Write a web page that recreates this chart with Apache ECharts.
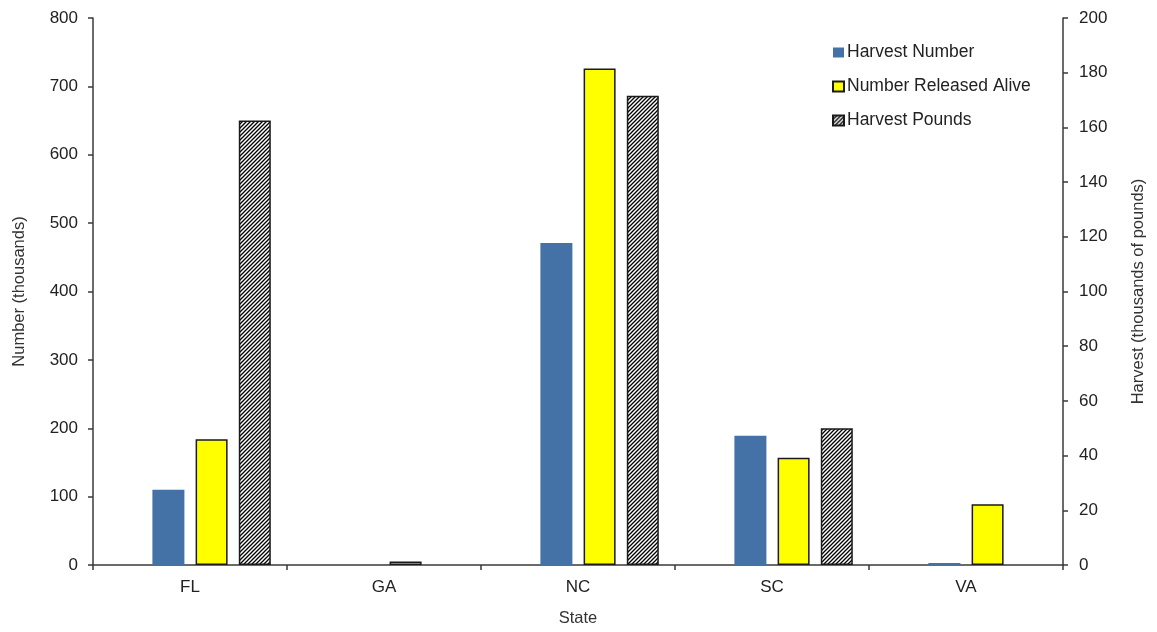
<!DOCTYPE html>
<html>
<head>
<meta charset="utf-8">
<script src="https://cdn.jsdelivr.net/npm/echarts@6/dist/echarts.min.js"></script>
<style>
html,body{margin:0;padding:0;background:#fff;}
#chart{width:1157px;height:632px;}
</style>
</head>
<body>
<div id="chart"></div>
<script>
const states = ['FL', 'GA', 'NC', 'SC', 'VA'];
const harvestNumber = [110, null, 471, 189, 3];
const releasedAlive = [184, 5, 726, 157, 89];
const harvestPounds = [162.5, null, 171.6, 50, null];
const leftTicks = { min: 0, max: 800, interval: 100 };
const rightTicks = { min: 0, max: 200, interval: 20 };

function hatch() {
  const c = document.createElement('canvas');
  const s = 4;
  c.width = s; c.height = s;
  const g = c.getContext('2d');
  g.fillStyle = '#fff';
  g.fillRect(0, 0, s, s);
  g.strokeStyle = '#000';
  g.lineWidth = 1.3;
  g.beginPath();
  g.moveTo(-1, s + 1); g.lineTo(s + 1, -1);
  g.moveTo(-1, 1); g.lineTo(1, -1);
  g.moveTo(s - 1, s + 1); g.lineTo(s + 1, s - 1);
  g.stroke();
  return c;
}

const font = 'Liberation Sans, Arial, sans-serif';
const axisLine = { show: true, lineStyle: { color: '#3a3a3a', width: 1.5 } };
const tick = { show: true, length: 5, lineStyle: { color: '#3a3a3a', width: 1.5 } };
const chart = echarts.init(document.getElementById('chart'));
chart.setOption({
  animation: false,
  textStyle: { fontFamily: font },
  grid: { left: 93, right: 94, top: 18, bottom: 65 },
  legend: {
    orient: 'vertical',
    left: 827,
    top: 37,
    data: ['Harvest Number', 'Number Released Alive', 'Harvest Pounds'],
    itemWidth: 11,
    itemHeight: 10,
    itemGap: 13,
    icon: 'rect',
    textStyle: { fontSize: 17.5, color: '#222', lineHeight: 21, fontFamily: font, padding: [0, 0, 0, -2] }
  },
  xAxis: {
    type: 'category',
    data: states,
    name: 'State',
    nameLocation: 'middle',
    nameGap: 45,
    nameTextStyle: { fontSize: 16.5, color: '#333' },
    axisLine: axisLine,
    axisTick: tick,
    axisLabel: { fontSize: 17, color: '#222', margin: 14 }
  },
  yAxis: [
    {
      type: 'value',
      min: leftTicks.min, max: leftTicks.max, interval: leftTicks.interval,
      name: 'Number (thousands)',
      nameLocation: 'middle',
      nameGap: 65,
      nameRotate: 90,
      nameTextStyle: { fontSize: 16.5, color: '#333' },
      axisLine: axisLine,
      axisTick: tick,
      axisLabel: { fontSize: 17, color: '#222', margin: 15 },
      splitLine: { show: false }
    },
    {
      type: 'value',
      position: 'right',
      min: rightTicks.min, max: rightTicks.max, interval: rightTicks.interval,
      name: 'Harvest (thousands of pounds)',
      nameLocation: 'middle',
      nameGap: 67,
      nameRotate: 90,
      nameTextStyle: { fontSize: 16.5, color: '#333' },
      axisLine: axisLine,
      axisTick: tick,
      axisLabel: { fontSize: 17, color: '#222', margin: 16 },
      splitLine: { show: false }
    }
  ],
  series: [
    {
      name: 'spacer',
      type: 'bar',
      data: [],
      barWidth: 32,
      barGap: '35%'
    },
    {
      name: 'Harvest Number',
      type: 'bar',
      data: harvestNumber,
      barWidth: 32,
      barGap: '35%',
      itemStyle: { color: '#4471A6' }
    },
    {
      name: 'Number Released Alive',
      type: 'bar',
      data: releasedAlive,
      barWidth: 32,
      barGap: '35%',
      itemStyle: { color: '#FFFF00', borderColor: '#1a1a1a', borderWidth: 1.5 }
    },
    {
      name: 'Harvest Pounds',
      type: 'bar',
      yAxisIndex: 1,
      data: harvestPounds,
      barWidth: 32,
      barGap: '35%',
      itemStyle: { color: { image: hatch(), repeat: 'repeat' }, borderColor: '#1a1a1a', borderWidth: 1.5 }
    }
  ]
});
</script>
</body>
</html>
